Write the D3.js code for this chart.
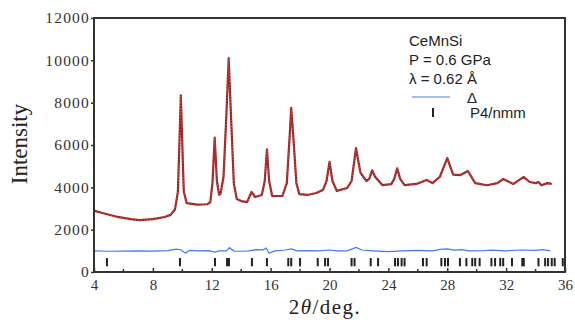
<!DOCTYPE html>
<html>
<head>
<meta charset="utf-8">
<script src="https://cdn.jsdelivr.net/npm/d3@7"></script>
<style>
  body { margin: 0; background: #fff; }
  svg { display: block; }
</style>
</head>
<body>
<svg id="chart" width="575" height="320"></svg>
<script>
// observed / calculated profile (2theta in deg, intensity)
var obsX = [4.0, 4.5, 5.5, 6.5, 7.1, 8.0, 8.8, 9.2, 9.5, 9.7, 9.8, 9.9, 10.0, 10.1, 10.3, 11.0, 11.7, 11.9,
    12.05, 12.2, 12.35, 12.5, 12.6, 12.8, 13.0, 13.15, 13.3, 13.5, 13.7, 14.0, 14.4, 14.7, 14.95, 15.4,
    15.6, 15.75, 15.9, 16.1, 16.8, 17.1, 17.3, 17.4, 17.55, 17.75, 17.95, 18.5, 19.1, 19.55, 19.8, 20.0,
    20.2, 20.5, 21.2, 21.5, 21.8, 22.1, 22.5, 22.7, 22.9, 23.1, 23.6, 24.2, 24.4, 24.6, 24.8, 25.1, 25.9,
    26.6, 27.0, 27.5, 28.0, 28.4, 28.9, 29.4, 29.9, 30.7, 31.4, 31.8, 32.5, 33.2, 33.6, 34.0, 34.2, 34.4,
    34.8, 35.1];
var obsY = [2900, 2800, 2620, 2500, 2450, 2500, 2600, 2700, 2950, 3800, 6000, 8350, 6000, 3800, 3250, 3180, 3200, 3300,
    4200, 6350, 4300, 3650, 3700, 4500, 7500, 10100, 7500, 4200, 3450, 3350, 3300, 3780, 3540, 3640,
    4300, 5800, 4300, 3600, 3590, 4200, 6500, 7750, 6300, 4200, 3680, 3640, 3730, 3870, 4300, 5200,
    4300, 3830, 3970, 4300, 5850, 4700, 4300, 4400, 4800, 4500, 4100, 4150, 4400, 4900, 4400, 4100, 4160,
    4350, 4200, 4500, 5380, 4600, 4580, 4770, 4200, 4100, 4200, 4390, 4160, 4490, 4250, 4200, 4250, 4100,
    4200, 4160];

// difference curve (offset)
var diffX = [4, 5, 6, 7, 8, 9, 9.6, 9.9, 10.2, 10.5, 11, 11.8, 12.2, 12.5, 13.0, 13.2, 13.5, 14, 14.5, 15,
    15.5, 15.7, 15.9, 16.3, 17, 17.4, 17.8, 18.5, 19.3, 20.0, 20.5, 21.2, 21.8, 22.2, 23, 24, 25, 26, 27,
    27.5, 28.0, 28.5, 29, 29.5, 30.5, 31, 32, 33, 34, 34.5, 35.0];
var diffY = [1000, 980, 990, 1000, 990, 1010, 1080, 1050, 900, 1020, 1000, 1010, 940, 1000, 1000, 1150, 990, 980, 1000, 1060,
    1050, 1130, 900, 1000, 1040, 1090, 1000, 1010, 1000, 1040, 1000, 1000, 1160, 1040, 1000, 960, 1000, 1020, 1000,
    1070, 1090, 1030, 1060, 1000, 1010, 1030, 1000, 1040, 1020, 1060, 1000];

// Bragg reflection positions, P4/nmm
var braggX = [4.88, 9.84, 12.22, 13.04, 13.17, 14.73, 15.75, 17.2, 17.4, 18.0, 19.2, 19.7, 19.9, 21.5, 21.7,
    22.8, 23.3, 24.45, 24.65, 24.9, 25.1, 26.35, 26.6, 27.6, 27.85, 28.05, 28.86, 29.3, 29.7, 29.9, 30.2,
    31.0, 31.25, 31.6, 31.8, 32.4, 33.1, 33.2, 34.2, 34.65, 34.85, 35.1, 35.3, 35.85];

var xTicks = [4, 8, 12, 16, 20, 24, 28, 32, 36];
var xMinor = [6, 10, 14, 18, 22, 26, 30, 34];
var yTicks = [0, 2000, 4000, 6000, 8000, 10000, 12000];
var legendLines = ["CeMnSi", "P = 0.6 GPa", "\u03bb = 0.62  \u00c5"];

var plotLeft = 94, plotRight = 565, plotTop = 18, plotBottom = 272;
var serif = "'Liberation Serif', 'Times New Roman', serif";

var svg = d3.select("#chart");

var xScale = d3.scaleLinear().domain([4, 36]).range([plotLeft, plotRight]);
var yScale = d3.scaleLinear().domain([0, 12000]).range([plotBottom, plotTop]);

var obs = obsX.map(function (x, i) { return [x, obsY[i]]; });
var diff = diffX.map(function (x, i) { return [x, diffY[i]]; });

var line = d3.line()
    .x(function (d) { return xScale(d[0]); })
    .y(function (d) { return yScale(d[1]); });

// obs (red) with calc (cyan, dotted) on top
svg.append("path")
    .attr("d", line(obs))
    .attr("fill", "none")
    .attr("stroke", "#a81c1c")
    .attr("stroke-width", 2.2)
    .attr("stroke-linejoin", "round");

svg.append("path")
    .attr("d", line(obs))
    .attr("fill", "none")
    .attr("stroke", "#9fe6ea")
    .attr("stroke-opacity", 0.55)
    .attr("stroke-width", 0.8)
    .attr("stroke-dasharray", "1,2");

svg.append("path")
    .attr("d", line(diff))
    .attr("fill", "none")
    .attr("stroke", "#4a78f2")
    .attr("stroke-width", 1.2);

// bragg bars
svg.selectAll(".bragg")
    .data(braggX)
    .enter().append("line")
    .attr("class", "bragg")
    .attr("x1", function (d) { return xScale(d); })
    .attr("x2", function (d) { return xScale(d); })
    .attr("y1", yScale(270))
    .attr("y2", yScale(660))
    .attr("stroke", "#222")
    .attr("stroke-width", 2);

// frame
svg.append("rect")
    .attr("x", plotLeft).attr("y", plotTop)
    .attr("width", plotRight - plotLeft).attr("height", plotBottom - plotTop)
    .attr("fill", "none")
    .attr("stroke", "#333")
    .attr("stroke-width", 2);

// x axis
var xAxis = svg.append("g")
    .attr("transform", "translate(0," + plotBottom + ")")
    .call(d3.axisBottom(xScale).tickValues(xTicks).tickSize(-4).tickPadding(7).tickFormat(d3.format("d")));
xAxis.select(".domain").remove();
xAxis.selectAll("text")
    .attr("fill", "#333")
    .style("font-family", serif)
    .style("font-size", "15px");
xAxis.selectAll("line").attr("stroke", "#333").attr("stroke-width", 1.5);

svg.append("g").selectAll("line")
    .data(xMinor)
    .enter().append("line")
    .attr("x1", function (d) { return xScale(d); })
    .attr("x2", function (d) { return xScale(d); })
    .attr("y1", plotBottom)
    .attr("y2", plotBottom - 3)
    .attr("stroke", "#333")
    .attr("stroke-width", 1.5);

// y axis
var yAxis = svg.append("g")
    .attr("transform", "translate(" + plotLeft + ",0)")
    .call(d3.axisLeft(yScale).tickValues(yTicks).tickSize(3).tickPadding(1).tickFormat(d3.format("d")));
yAxis.select(".domain").remove();
yAxis.selectAll("text")
    .attr("fill", "#333")
    .style("font-family", serif)
    .style("font-size", "15.5px")
    .style("letter-spacing", "1.2px");
yAxis.selectAll("line").attr("stroke", "#333").attr("stroke-width", 1.5);

// axis titles
svg.append("text")
    .attr("transform", "translate(27,144) rotate(-90)")
    .attr("text-anchor", "middle")
    .style("font-family", serif)
    .style("font-size", "23px")
    .attr("fill", "#222")
    .text("Intensity");

var xt = svg.append("text")
    .attr("x", 325)
    .attr("y", 314)
    .attr("text-anchor", "middle")
    .style("font-family", serif)
    .style("font-size", "21px")
    .style("letter-spacing", "1.5px")
    .attr("fill", "#222");
xt.append("tspan").text("2");
xt.append("tspan").style("font-style", "italic").text("\u03b8");
xt.append("tspan").text("/deg.");

// legend
var legend = svg.append("g")
    .style("font-family", "'Liberation Sans', Arial, sans-serif")
    .style("font-size", "15px")
    .attr("fill", "#222");

legend.selectAll(".info")
    .data(legendLines)
    .enter().append("text")
    .attr("class", "info")
    .attr("x", 409)
    .attr("y", function (d, i) { return 46 + i * 19; })
    .text(function (d) { return d; });

legend.append("line")
    .attr("x1", 412).attr("x2", 450)
    .attr("y1", 97).attr("y2", 97)
    .attr("stroke", "#4a78f2")
    .attr("stroke-width", 1.2);
legend.append("text")
    .attr("x", 467).attr("y", 103)
    .text("\u0394");

legend.append("line")
    .attr("x1", 433).attr("x2", 433)
    .attr("y1", 108).attr("y2", 117)
    .attr("stroke", "#222")
    .attr("stroke-width", 2);
legend.append("text")
    .attr("x", 470).attr("y", 118)
    .text("P4/nmm");
</script>
</body>
</html>
